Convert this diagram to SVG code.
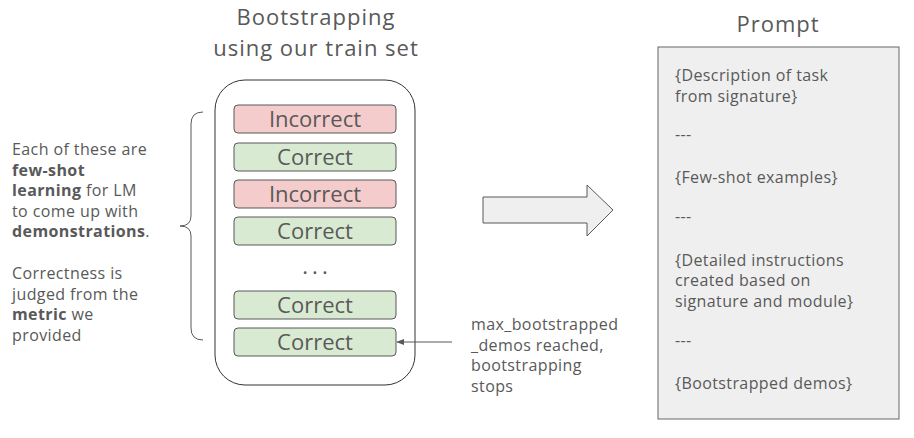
<svg xmlns="http://www.w3.org/2000/svg" width="914" height="438" viewBox="0 0 914 438">
<style>
text{font-family:"Open Sans","Liberation Sans",sans-serif;fill:#595959}
.title{font-size:22px;letter-spacing:1px;text-anchor:middle}
.box{font-size:22px;text-anchor:middle}
.lt{font-size:16px;letter-spacing:0.4px}
.b{font-weight:bold}
.inc{fill:#f4cccc;stroke:#595959;stroke-width:1}
.cor{fill:#d9ead3;stroke:#595959;stroke-width:1}
</style>
<defs>
<marker id="ah" viewBox="0 0 10 10" refX="9" refY="5" markerWidth="8" markerHeight="8" orient="auto">
<path d="M0,1 L10,5 L0,9 z" fill="#595959"/>
</marker>
</defs>
<rect width="914" height="438" fill="#ffffff"/>
<g id="title-bootstrap">
<text class="title" x="316" y="25">Bootstrapping</text>
<text class="title" x="316" y="55.5">using our train set</text>
</g>
<g id="trainset">
<rect x="215" y="80" width="200" height="305" rx="30" fill="#ffffff" stroke="#333333" stroke-width="1"/>
</g>
<g id="n1"><rect class="inc" x="234" y="105" width="162" height="28" rx="4"/><text class="box" x="315" y="127">Incorrect</text></g>
<g id="n2"><rect class="cor" x="234" y="143" width="162" height="28" rx="4"/><text class="box" x="315" y="165">Correct</text></g>
<g id="n3"><rect class="inc" x="234" y="180" width="162" height="28" rx="4"/><text class="box" x="315" y="202">Incorrect</text></g>
<g id="n4"><rect class="cor" x="234" y="217" width="162" height="28" rx="4"/><text class="box" x="315" y="239">Correct</text></g>
<g id="ellipsis"><text class="box" x="317" y="274" letter-spacing="4">...</text></g>
<g id="n5"><rect class="cor" x="234" y="291" width="162" height="28" rx="4"/><text class="box" x="315" y="313">Correct</text></g>
<g id="n6"><rect class="cor" x="234" y="328" width="162" height="28" rx="4"/><text class="box" x="315" y="350">Correct</text></g>
<g id="note-left">
<text class="lt" x="12" y="155">Each of these are</text>
<text class="lt b" x="12" y="175.6">few-shot</text>
<text class="lt" x="12" y="196.2"><tspan class="b">learning</tspan> for LM</text>
<text class="lt" x="12" y="216.8">to come up with</text>
<text class="lt" x="12" y="237.4"><tspan class="b">demonstrations</tspan>.</text>
<text class="lt" x="12" y="279">Correctness is</text>
<text class="lt" x="12" y="299.6">judged from the</text>
<text class="lt" x="12" y="320.2"><tspan class="b">metric</tspan> we</text>
<text class="lt" x="12" y="340.8">provided</text>
</g>
<g id="brace">
<path d="M203 112 Q191 112 191 124 L191 216 Q191 226 180 226 Q191 226 191 236 L191 328 Q191 340 203 340" fill="none" stroke="#595959" stroke-width="1"/>
</g>
<g id="note-stop">
<text class="lt" x="471" y="330">max_bootstrapped</text>
<text class="lt" x="471" y="350.7">_demos reached,</text>
<text class="lt" x="471" y="371.4">bootstrapping</text>
<text class="lt" x="471" y="392">stops</text>
</g>
<g id="connectors">
<line x1="452" y1="342" x2="397" y2="342" stroke="#595959" stroke-width="1" marker-end="url(#ah)"/>
<path d="M483 197 L587 197 L587 185 L613 210 L587 236 L587 223 L483 223 Z" fill="#efefef" stroke="#595959" stroke-width="1"/>
</g>
<g id="prompt">
<text class="title" x="778" y="32">Prompt</text>
<rect x="658" y="47" width="241" height="372" fill="#efefef" stroke="#666666" stroke-width="1"/>
<text class="lt" x="675" y="81">{Description of task</text>
<text class="lt" x="675" y="102">from signature}</text>
<text class="lt" x="675" y="140">---</text>
<text class="lt" x="675" y="183">{Few-shot examples}</text>
<text class="lt" x="675" y="222">---</text>
<text class="lt" x="675" y="265.5">{Detailed instructions</text>
<text class="lt" x="675" y="286">created based on</text>
<text class="lt" x="675" y="306.5">signature and module}</text>
<text class="lt" x="675" y="346">---</text>
<text class="lt" x="675" y="389">{Bootstrapped demos}</text>
</g>
</svg>
